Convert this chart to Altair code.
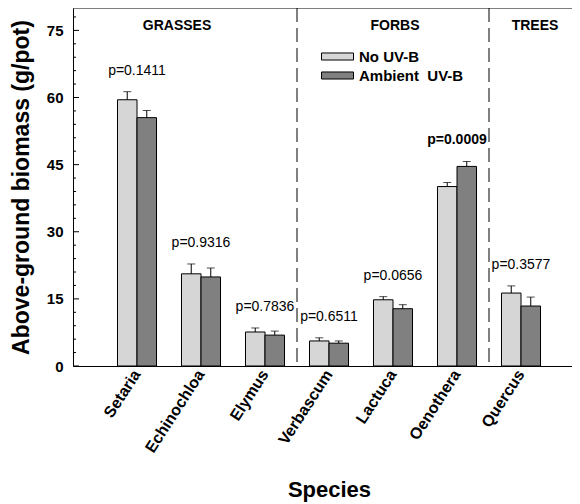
import altair as alt
import pandas as pd

species = ["Setaria", "Echinochloa", "Elymus", "Verbascum", "Lactuca", "Oenothera", "Quercus"]
treatments = ["No UV-B", "Ambient\u00a0 UV-B"]
no_uv = [59.5, 20.6, 7.6, 5.6, 14.8, 40.1, 16.3]
no_uv_se = [1.8, 2.2, 0.9, 0.7, 0.7, 0.9, 1.6]
ambient = [55.5, 19.9, 6.9, 5.1, 12.8, 44.6, 13.4]
ambient_se = [1.6, 2.0, 0.9, 0.5, 0.9, 1.1, 2.0]
p_labels = ["p=0.1411", "p=0.9316", "p=0.7836", "p=0.6511", "p=0.0656", "p=0.0009", "p=0.3577"]
p_values = [0.1411, 0.9316, 0.7836, 0.6511, 0.0656, 0.0009, 0.3577]
group_names = ["GRASSES", "FORBS", "TREES"]
group_anchor = ["Echinochloa", "Lactuca", "Quercus"]
group_breaks = ["Verbascum", "Quercus"]
y_major = [0, 15, 30, 45, 60, 75]
y_minor = [3, 6, 9, 12, 18, 21, 24, 27, 33, 36, 39, 42, 48, 51, 54, 57, 63, 66, 69, 72, 78]

rows = []
for i, s in enumerate(species):
    rows.append({"species": s, "treatment": treatments[0], "mean": no_uv[i], "upper": no_uv[i] + no_uv_se[i]})
    rows.append({"species": s, "treatment": treatments[1], "mean": ambient[i], "upper": ambient[i] + ambient_se[i]})
df = pd.DataFrame(rows)

pdf = pd.DataFrame({
    "species": species,
    "label": p_labels,
    "p": p_values,
    "top": [max(a + b, c + d) for a, b, c, d in zip(no_uv, no_uv_se, ambient, ambient_se)],
})

W, H = 499, 358
FONT = "Liberation Sans"

xscale = alt.Scale(domain=species, range=[0, 512], paddingInner=0, paddingOuter=0.5)
xoff_scale = alt.Scale(domain=treatments, paddingInner=0, paddingOuter=0.64)
yscale = alt.Scale(domain=[0, 80], nice=False)

x_enc = alt.X("species:N", scale=xscale, sort=species,
              axis=alt.Axis(title="Species", labelAngle=-57, ticks=False, labelPadding=5,
                            labelFontSize=16, labelFontWeight="bold", titleFontSize=22,
                            titleFontWeight="bold", titlePadding=24, domainColor="black",
                            labelColor="black", titleColor="black"))
y_enc = alt.Y("mean:Q", scale=yscale,
              axis=alt.Axis(title="Above-ground biomass (g/pot)", values=y_major, ticks=False,
                            labelPadding=10, labelFontSize=15, labelFontWeight="bold",
                            titleFontSize=23, titleFontWeight="bold", titlePadding=13,
                            grid=False, domainColor="black", labelColor="black", titleColor="black"))

base = alt.Chart(df)

bars = base.mark_bar(stroke="black", strokeWidth=1).encode(
    x=x_enc,
    xOffset=alt.XOffset("treatment:N", scale=xoff_scale, sort=treatments),
    y=y_enc,
    color=alt.Color("treatment:N", sort=treatments,
                    scale=alt.Scale(domain=treatments, range=["#d6d6d6", "#808080"]),
                    legend=alt.Legend(title=None, orient="none", legendX=256, legendY=40,
                                      symbolType="M-2,-0.44H2V0.44H-2Z", symbolSize=256,
                                      symbolStrokeColor="black", symbolStrokeWidth=1,
                                      labelFontSize=15, labelFontWeight="bold", labelColor="black",
                                      labelOffset=13, rowPadding=2, padding=0)),
)

err = base.mark_rule(color="black", strokeWidth=1).encode(
    x=alt.X("species:N", scale=xscale),
    xOffset=alt.XOffset("treatment:N", scale=xoff_scale, sort=treatments),
    y=alt.Y("mean:Q", scale=yscale),
    y2="upper:Q",
)

caps = base.mark_tick(color="black", thickness=1, size=8).encode(
    x=alt.X("species:N", scale=xscale),
    xOffset=alt.XOffset("treatment:N", scale=xoff_scale, sort=treatments),
    y=alt.Y("upper:Q", scale=yscale),
)

ptext_base = alt.Chart(pdf).encode(
    x=alt.X("species:N", scale=xscale),
    y=alt.Y("top:Q", scale=yscale),
    text="label:N",
)
ptext_norm = ptext_base.mark_text(fontSize=14, baseline="middle", dy=-21, color="black").transform_filter(
    "datum.p >= 0.05")
ptext_bold = ptext_base.mark_text(fontSize=14, fontWeight="bold", baseline="middle", dy=-21,
                                  color="black").transform_filter("datum.p < 0.05")

dividers = alt.Chart(pd.DataFrame({"species": group_breaks})).mark_rule(
    color="black", strokeDash=[14, 6], strokeWidth=1
).encode(
    x=alt.X("species:N", scale=xscale, bandPosition=0),
    y=alt.value(0),
    y2=alt.value(H),
)

top_line = alt.Chart(pd.DataFrame({"v": [80]})).mark_rule(color="black", strokeWidth=1).encode(
    y=alt.Y("v:Q", scale=yscale), x=alt.value(0), x2=alt.value(W)
)

minor = alt.Chart(pd.DataFrame({"v": y_minor})).mark_rule(color="black", strokeWidth=1).encode(
    y=alt.Y("v:Q", scale=yscale), x=alt.value(0), x2=alt.value(3)
)
major = alt.Chart(pd.DataFrame({"v": y_major})).mark_rule(color="black", strokeWidth=1).encode(
    y=alt.Y("v:Q", scale=yscale), x=alt.value(0), x2=alt.value(6)
)

section_dx = [-24, 2, 14]
sections = []
for name, anchor, dx in zip(group_names, group_anchor, section_dx):
    sections.append(
        alt.Chart(pd.DataFrame({"species": [anchor], "name": [name]})).mark_text(
            fontSize=14, fontWeight="bold", baseline="middle", dx=dx, color="black"
        ).encode(x=alt.X("species:N", scale=xscale), y=alt.value(18), text="name:N")
    )

chart = alt.layer(bars, err, caps, ptext_norm, ptext_bold, dividers, top_line, minor, major,
                  *sections).properties(
    width=W, height=H,
    autosize=alt.AutoSizeParams(type="none"),
    padding={"left": 65, "top": 0, "right": 0, "bottom": 137},
).configure(font=FONT).configure_view(stroke=None)

chart.save("out.html", embed_options={"renderer": "svg", "actions": False})
